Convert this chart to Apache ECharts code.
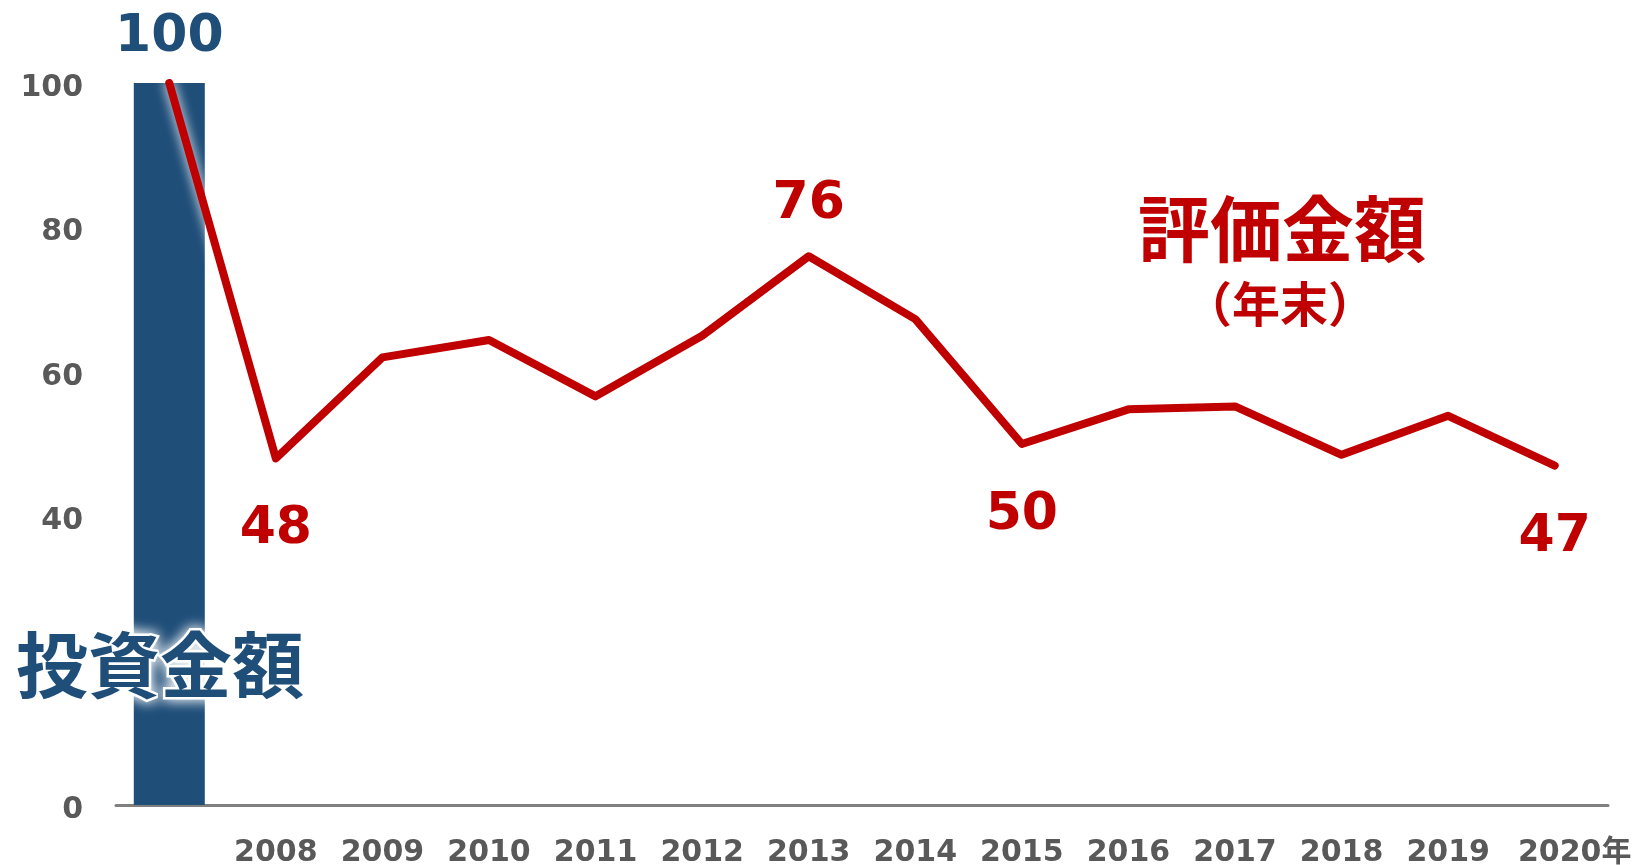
<!DOCTYPE html>
<html>
<head>
<meta charset="utf-8">
<script src="https://cdn.jsdelivr.net/npm/echarts@6/dist/echarts.min.js"></script>
<style>
  html, body { margin: 0; padding: 0; background: #fff; }
  #chart { width: 1648px; height: 865px; }
</style>
</head>
<body>
<div id="chart"></div>
<script>
// 投資金額（棒）と評価金額（年末、折れ線）
var years = ['', '2008', '2009', '2010', '2011', '2012', '2013', '2014', '2015', '2016', '2017', '2018', '2019', '2020'];
var investValues = [100, null, null, null, null, null, null, null, null, null, null, null, null, null];
var valuationValues = [100, 48, 62, 64.4, 56.6, 65, 76, 67.3, 50, 54.8, 55.2, 48.5, 53.9, 47];
var labelledYears = ['2008', '2013', '2015', '2020'];
var yTicksShown = [0, 40, 60, 80, 100];

var blue = '#1F4E79';
var red = '#C00000';
var gray = '#595959';
var numFont = 'DejaVu Sans, Noto Sans CJK JP, sans-serif';
var cjkFont = 'Noto Sans CJK JP, sans-serif';

var chart = echarts.init(document.getElementById('chart'));

// 折れ線のラベルは山なら上、谷なら下
var lineData = valuationValues.map(function (v, i) {
    if (labelledYears.indexOf(years[i]) < 0) return v;
    var prev = valuationValues[i - 1], next = valuationValues[i + 1];
    var isPeak = v > prev && (next === undefined || v > next);
    return {
        value: v,
        label: {
            show: true,
            position: isPeak ? 'top' : 'bottom',
            distance: isPeak ? 25 : 45,
            formatter: String(Math.round(v))
        }
    };
});

var xData = years.map(function (y, i) {
    if (i === years.length - 1) {
        return { value: y + '年', textStyle: { padding: [0, 0, 0, 40] } };
    }
    return y;
});

option = {
    animation: false,
    backgroundColor: '#fff',
    grid: { left: 116, right: 40, top: 83, bottom: 60, containLabel: false, outerBoundsMode: 'none' },
    xAxis: {
        type: 'category',
        data: xData,
        axisLine: { lineStyle: { color: '#808080', width: 3 } },
        axisTick: { show: false },
        axisLabel: {
            interval: 0,
            margin: 33,
            color: gray,
            fontSize: 30,
            fontWeight: 'bold',
            fontFamily: numFont
        }
    },
    yAxis: {
        type: 'value',
        min: 0,
        max: 100,
        interval: 20,
        splitLine: { show: false },
        axisLine: { show: false },
        axisTick: { show: false },
        axisLabel: {
            margin: 33,
            formatter: function (v) { return yTicksShown.indexOf(v) >= 0 ? '{n|' + v + '}' : ''; },
            rich: {
                n: {
                    color: gray,
                    fontSize: 30,
                    fontWeight: 'bold',
                    fontFamily: numFont,
                    padding: [10, 0, 0, 0]
                }
            }
        }
    },
    series: [
        {
            name: '投資金額',
            type: 'bar',
            data: investValues,
            barWidth: 71,
            itemStyle: { color: blue },
            label: {
                show: true,
                position: 'top',
                distance: 20,
                color: blue,
                fontSize: 52,
                fontWeight: 'bold',
                fontFamily: numFont
            },
            z: 1
        },
        {
            name: '評価金額',
            type: 'line',
            data: lineData,
            symbol: 'circle',
            symbolSize: 1,
            showSymbol: true,
            itemStyle: { color: red },
            lineStyle: {
                color: red,
                width: 8,
                cap: 'round',
                join: 'round',
                shadowColor: '#fff',
                shadowBlur: 12
            },
            label: {
                color: red,
                fontSize: 52,
                fontWeight: 'bold',
                fontFamily: numFont
            },
            z: 3
        }
    ],
    graphic: [
        {
            type: 'text',
            x: 160, y: 665,
            z: 10,
            style: {
                text: '投資金額',
                fill: blue,
                font: 'bold 72px ' + cjkFont,
                align: 'center',
                verticalAlign: 'middle',
                stroke: '#fff',
                lineWidth: 5,
                textShadowColor: '#fff',
                textShadowBlur: 14
            }
        },
        {
            type: 'text',
            x: 1282, y: 229,
            z: 10,
            style: {
                text: '評価金額',
                fill: red,
                font: 'bold 72px ' + cjkFont,
                align: 'center',
                verticalAlign: 'middle'
            }
        },
        {
            type: 'text',
            x: 1280, y: 304,
            z: 10,
            style: {
                text: '（年末）',
                fill: red,
                font: 'bold 48px ' + cjkFont,
                align: 'center',
                verticalAlign: 'middle'
            }
        }
    ]
};
chart.setOption(option);
</script>
</body>
</html>
